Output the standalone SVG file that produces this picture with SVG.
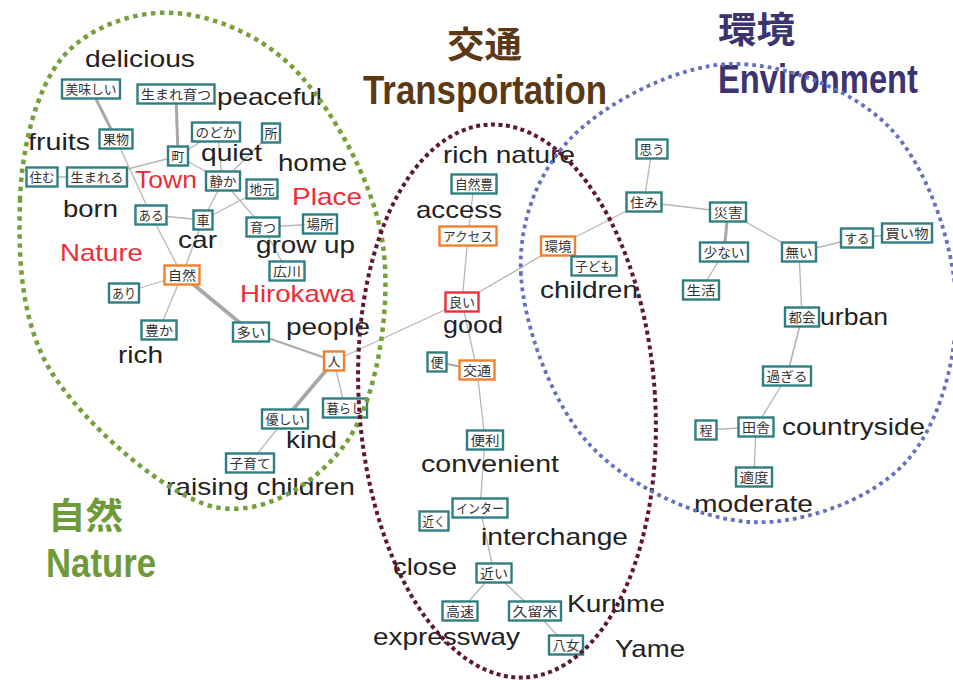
<svg xmlns="http://www.w3.org/2000/svg" width="953" height="680" viewBox="0 0 953 680">
<style>
.lbl{font-family:"Liberation Sans",Arial,sans-serif;font-size:24px;fill:#222}
.red{fill:#ec2d36}
.box{fill:#fff;stroke:#2f7f82;stroke-width:2.4}
.o{stroke:#f08030}
.r{stroke:#e8303a}
.jp{font-family:"Noto Sans CJK JP",sans-serif;font-size:13px;fill:#333;text-anchor:middle}
.e{stroke:#b6b6b6;stroke-width:1.3;fill:none}
.m{stroke:#ababab;stroke-width:2.2}
.t{stroke:#a8a8a8;stroke-width:3.8}
.reg{fill:none}
.hd{font-family:"Liberation Sans",Arial,sans-serif;font-weight:bold;font-size:41px}
.hj{font-family:"Noto Sans CJK JP",sans-serif;font-weight:bold;font-size:36px}
</style>
<rect width="953" height="680" fill="#fff"/>
<g id="headings">
<text class="hj" x="447" y="58" fill="#5a3914" textLength="75" lengthAdjust="spacingAndGlyphs">交通</text>
<text class="hd" x="363" y="104" fill="#5a3914" textLength="244" lengthAdjust="spacingAndGlyphs">Transportation</text>
<text class="hj" x="718" y="43" fill="#3b3470" textLength="77" lengthAdjust="spacingAndGlyphs">環境</text>
<text class="hd" x="718" y="93" fill="#3b3470" textLength="200" lengthAdjust="spacingAndGlyphs">Environment</text>
<text class="hj" x="48" y="529" fill="#6e9a3a" textLength="75" lengthAdjust="spacingAndGlyphs">自然</text>
<text class="hd" x="46" y="577" fill="#6e9a3a" textLength="110" lengthAdjust="spacingAndGlyphs">Nature</text>
</g>
<g id="connectors">
<line class="e t" x1="91" y1="89" x2="116" y2="139" style="stroke-width:3"/>
<line class="e t" x1="176" y1="94" x2="178" y2="156" style="stroke-width:3"/>
<line class="e" x1="116" y1="139" x2="151" y2="215"/>
<line class="e" x1="151" y1="215" x2="182" y2="275"/>
<line class="e" x1="42" y1="177" x2="97" y2="177"/>
<line class="e" x1="97" y1="177" x2="178" y2="156"/>
<line class="e" x1="178" y1="156" x2="216" y2="132"/>
<line class="e" x1="178" y1="156" x2="223" y2="181"/>
<line class="e" x1="218" y1="132" x2="222" y2="181"/>
<line class="e" x1="271" y1="133" x2="223" y2="181"/>
<line class="e" x1="223" y1="181" x2="203" y2="220"/>
<line class="e" x1="223" y1="181" x2="263" y2="227"/>
<line class="e" x1="262" y1="189" x2="203" y2="220"/>
<line class="e" x1="151" y1="215" x2="203" y2="220"/>
<line class="e" x1="203" y1="220" x2="182" y2="275"/>
<line class="e" x1="263" y1="227" x2="320" y2="224"/>
<line class="e" x1="263" y1="227" x2="287" y2="271"/>
<line class="e" x1="182" y1="275" x2="124" y2="293"/>
<line class="e" x1="182" y1="275" x2="159" y2="330"/>
<line class="e t" x1="182" y1="275" x2="251" y2="332"/>
<line class="e m" x1="251" y1="332" x2="334" y2="361"/>
<line class="e t" x1="334" y1="361" x2="285" y2="419"/>
<line class="e" x1="334" y1="361" x2="345" y2="408"/>
<line class="e" x1="285" y1="419" x2="250" y2="463"/>
<line class="e" x1="334" y1="361" x2="462" y2="302"/>
<line class="e" x1="474" y1="184" x2="468" y2="236"/>
<line class="e" x1="468" y1="236" x2="462" y2="302"/>
<line class="e" x1="462" y1="302" x2="558" y2="246"/>
<line class="e" x1="558" y1="246" x2="644" y2="202"/>
<line class="e" x1="462" y1="302" x2="477" y2="370"/>
<line class="e m" x1="437" y1="362" x2="477" y2="370"/>
<line class="e" x1="477" y1="370" x2="485" y2="440"/>
<line class="e" x1="485" y1="440" x2="480" y2="508"/>
<line class="e" x1="480" y1="508" x2="494" y2="573"/>
<line class="e" x1="494" y1="573" x2="460" y2="611"/>
<line class="e" x1="494" y1="573" x2="535" y2="611"/>
<line class="e" x1="535" y1="611" x2="566" y2="645"/>
<line class="e" x1="652" y1="149" x2="644" y2="202"/>
<line class="e" x1="644" y1="202" x2="728" y2="212"/>
<line class="e t" x1="728" y1="212" x2="724" y2="252" style="stroke-width:3"/>
<line class="e" x1="724" y1="252" x2="701" y2="290"/>
<line class="e" x1="728" y1="212" x2="799" y2="252"/>
<line class="e" x1="799" y1="252" x2="857" y2="238"/>
<line class="e" x1="857" y1="238" x2="907" y2="233"/>
<line class="e" x1="799" y1="252" x2="802" y2="317"/>
<line class="e" x1="802" y1="317" x2="787" y2="376" style="stroke-width:1.7"/>
<line class="e" x1="787" y1="376" x2="756" y2="427"/>
<line class="e" x1="756" y1="427" x2="706" y2="430"/>
<line class="e" x1="756" y1="427" x2="754" y2="477"/>
</g>
<g id="n-oishii"><rect class="box" x="62" y="79.5" width="58" height="19"/><text class="jp" x="91" y="93.5" textLength="51" lengthAdjust="spacingAndGlyphs">美味しい</text></g>
<g id="n-umaresodatsu"><rect class="box" x="137.5" y="84.5" width="77" height="19"/><text class="jp" x="176" y="98.5" textLength="70" lengthAdjust="spacingAndGlyphs">生まれ育つ</text></g>
<g id="n-nodoka"><rect class="box" x="192" y="122.5" width="48" height="19"/><text class="jp" x="216" y="136.5" textLength="41" lengthAdjust="spacingAndGlyphs">のどか</text></g>
<g id="n-tokoro"><rect class="box" x="262" y="123.5" width="18" height="19"/><text class="jp" x="271" y="137.5">所</text></g>
<g id="n-kudamono"><rect class="box" x="99.5" y="129.5" width="33" height="19"/><text class="jp" x="116" y="143.5" textLength="26" lengthAdjust="spacingAndGlyphs">果物</text></g>
<g id="n-machi"><rect class="box" x="168" y="146.5" width="20" height="19"/><text class="jp" x="178" y="160.5">町</text></g>
<g id="n-sumu"><rect class="box" x="26.5" y="167.5" width="31" height="19"/><text class="jp" x="42" y="181.5" textLength="25" lengthAdjust="spacingAndGlyphs">住む</text></g>
<g id="n-umareru"><rect class="box" x="67" y="167.5" width="60" height="19"/><text class="jp" x="97" y="181.5" textLength="53" lengthAdjust="spacingAndGlyphs">生まれる</text></g>
<g id="n-shizuka"><rect class="box" x="206" y="171.5" width="34" height="19"/><text class="jp" x="223" y="185.5" textLength="27" lengthAdjust="spacingAndGlyphs">静か</text></g>
<g id="n-jimoto"><rect class="box" x="246.5" y="179.5" width="31" height="19"/><text class="jp" x="262" y="193.5" textLength="25" lengthAdjust="spacingAndGlyphs">地元</text></g>
<g id="n-aru"><rect class="box" x="135.5" y="205.5" width="31" height="19"/><text class="jp" x="151" y="219.5" textLength="25" lengthAdjust="spacingAndGlyphs">ある</text></g>
<g id="n-kuruma"><rect class="box" x="193.5" y="210.5" width="19" height="19"/><text class="jp" x="203" y="224.5">車</text></g>
<g id="n-sodatsu"><rect class="box" x="246.5" y="217.5" width="33" height="19"/><text class="jp" x="263" y="231.5" textLength="26" lengthAdjust="spacingAndGlyphs">育つ</text></g>
<g id="n-basho"><rect class="box" x="303" y="214.5" width="34" height="19"/><text class="jp" x="320" y="228.5" textLength="27" lengthAdjust="spacingAndGlyphs">場所</text></g>
<g id="n-hirokawa"><rect class="box" x="269.5" y="261.5" width="35" height="19"/><text class="jp" x="287" y="275.5" textLength="28" lengthAdjust="spacingAndGlyphs">広川</text></g>
<g id="n-shizen"><rect class="box o" x="164.5" y="265.5" width="35" height="19"/><text class="jp" x="182" y="279.5" textLength="28" lengthAdjust="spacingAndGlyphs">自然</text></g>
<g id="n-ari"><rect class="box" x="109" y="283.5" width="30" height="19"/><text class="jp" x="124" y="297.5" textLength="24" lengthAdjust="spacingAndGlyphs">あり</text></g>
<g id="n-yutaka"><rect class="box" x="141.5" y="320.5" width="35" height="19"/><text class="jp" x="159" y="334.5" textLength="28" lengthAdjust="spacingAndGlyphs">豊か</text></g>
<g id="n-ooi"><rect class="box" x="233" y="322.5" width="36" height="19"/><text class="jp" x="251" y="336.5" textLength="29" lengthAdjust="spacingAndGlyphs">多い</text></g>
<g id="n-hito"><rect class="box o" x="324" y="351.5" width="20" height="19"/><text class="jp" x="334" y="365.5">人</text></g>
<g id="n-kurashi"><rect class="box" x="323" y="398.5" width="44" height="19"/><text class="jp" x="345" y="412.5" textLength="37" lengthAdjust="spacingAndGlyphs">暮らし</text></g>
<g id="n-yasashii"><rect class="box" x="262" y="409.5" width="46" height="19"/><text class="jp" x="285" y="423.5" textLength="39" lengthAdjust="spacingAndGlyphs">優しい</text></g>
<g id="n-kosodate"><rect class="box" x="226" y="453.5" width="48" height="19"/><text class="jp" x="250" y="467.5" textLength="41" lengthAdjust="spacingAndGlyphs">子育て</text></g>
<g id="n-shizenyutaka"><rect class="box" x="451.5" y="174.5" width="45" height="19"/><text class="jp" x="474" y="188.5" textLength="38" lengthAdjust="spacingAndGlyphs">自然豊</text></g>
<g id="n-access"><rect class="box o" x="439.5" y="226.5" width="57" height="19"/><text class="jp" x="468" y="240.5" textLength="50" lengthAdjust="spacingAndGlyphs">アクセス</text></g>
<g id="n-kankyo"><rect class="box o" x="541" y="236.5" width="34" height="19"/><text class="jp" x="558" y="250.5" textLength="27" lengthAdjust="spacingAndGlyphs">環境</text></g>
<g id="n-kodomo"><rect class="box" x="571.5" y="256.5" width="45" height="19"/><text class="jp" x="594" y="270.5" textLength="38" lengthAdjust="spacingAndGlyphs">子ども</text></g>
<g id="n-yoi"><rect class="box r" x="445.5" y="292.5" width="33" height="19"/><text class="jp" x="462" y="306.5" textLength="26" lengthAdjust="spacingAndGlyphs">良い</text></g>
<g id="n-ben"><rect class="box" x="427.5" y="352.5" width="19" height="19"/><text class="jp" x="437" y="366.5">便</text></g>
<g id="n-kotsu"><rect class="box o" x="459.5" y="360.5" width="35" height="19"/><text class="jp" x="477" y="374.5" textLength="28" lengthAdjust="spacingAndGlyphs">交通</text></g>
<g id="n-benri"><rect class="box" x="467" y="430.5" width="36" height="19"/><text class="jp" x="485" y="444.5" textLength="29" lengthAdjust="spacingAndGlyphs">便利</text></g>
<g id="n-inter"><rect class="box" x="452.5" y="498.5" width="55" height="19"/><text class="jp" x="480" y="512.5" textLength="48" lengthAdjust="spacingAndGlyphs">インター</text></g>
<g id="n-chikaku"><rect class="box" x="419.5" y="511.5" width="29" height="19"/><text class="jp" x="434" y="525.5" textLength="23" lengthAdjust="spacingAndGlyphs">近く</text></g>
<g id="n-chikai"><rect class="box" x="476.5" y="563.5" width="35" height="19"/><text class="jp" x="494" y="577.5" textLength="28" lengthAdjust="spacingAndGlyphs">近い</text></g>
<g id="n-kosoku"><rect class="box" x="442.5" y="601.5" width="35" height="19"/><text class="jp" x="460" y="615.5" textLength="28" lengthAdjust="spacingAndGlyphs">高速</text></g>
<g id="n-kurume"><rect class="box" x="509" y="601.5" width="52" height="19"/><text class="jp" x="535" y="615.5" textLength="45" lengthAdjust="spacingAndGlyphs">久留米</text></g>
<g id="n-yame"><rect class="box" x="549" y="635.5" width="34" height="19"/><text class="jp" x="566" y="649.5" textLength="27" lengthAdjust="spacingAndGlyphs">八女</text></g>
<g id="n-omou"><rect class="box" x="636.5" y="139.5" width="31" height="19"/><text class="jp" x="652" y="153.5" textLength="25" lengthAdjust="spacingAndGlyphs">思う</text></g>
<g id="n-sumi"><rect class="box" x="626.5" y="192.5" width="35" height="19"/><text class="jp" x="644" y="206.5" textLength="28" lengthAdjust="spacingAndGlyphs">住み</text></g>
<g id="n-saigai"><rect class="box" x="710" y="202.5" width="36" height="19"/><text class="jp" x="728" y="216.5" textLength="29" lengthAdjust="spacingAndGlyphs">災害</text></g>
<g id="n-sukunai"><rect class="box" x="700" y="242.5" width="48" height="19"/><text class="jp" x="724" y="256.5" textLength="41" lengthAdjust="spacingAndGlyphs">少ない</text></g>
<g id="n-nai"><rect class="box" x="782" y="242.5" width="34" height="19"/><text class="jp" x="799" y="256.5" textLength="27" lengthAdjust="spacingAndGlyphs">無い</text></g>
<g id="n-suru"><rect class="box" x="841" y="228.5" width="32" height="19"/><text class="jp" x="857" y="242.5" textLength="25" lengthAdjust="spacingAndGlyphs">する</text></g>
<g id="n-kaimono"><rect class="box" x="882" y="223.5" width="50" height="19"/><text class="jp" x="907" y="237.5" textLength="43" lengthAdjust="spacingAndGlyphs">買い物</text></g>
<g id="n-seikatsu"><rect class="box" x="683" y="280.5" width="36" height="19"/><text class="jp" x="701" y="294.5" textLength="29" lengthAdjust="spacingAndGlyphs">生活</text></g>
<g id="n-tokai"><rect class="box" x="785" y="307.5" width="34" height="19"/><text class="jp" x="802" y="321.5" textLength="27" lengthAdjust="spacingAndGlyphs">都会</text></g>
<g id="n-sugiru"><rect class="box" x="763" y="366.5" width="48" height="19"/><text class="jp" x="787" y="380.5" textLength="41" lengthAdjust="spacingAndGlyphs">過ぎる</text></g>
<g id="n-hodo"><rect class="box" x="695.5" y="420.5" width="21" height="19"/><text class="jp" x="706" y="434.5">程</text></g>
<g id="n-inaka"><rect class="box" x="738.5" y="417.5" width="35" height="19"/><text class="jp" x="756" y="431.5" textLength="28" lengthAdjust="spacingAndGlyphs">田舎</text></g>
<g id="n-tekido"><rect class="box" x="736" y="467.5" width="36" height="19"/><text class="jp" x="754" y="481.5" textLength="29" lengthAdjust="spacingAndGlyphs">適度</text></g>
<g id="labels">
<text class="lbl" x="85" y="67" textLength="110" lengthAdjust="spacingAndGlyphs">delicious</text>
<text class="lbl" x="217" y="105" textLength="105" lengthAdjust="spacingAndGlyphs">peaceful</text>
<text class="lbl" x="28" y="150" textLength="62" lengthAdjust="spacingAndGlyphs">fruits</text>
<text class="lbl" x="201" y="161" textLength="61" lengthAdjust="spacingAndGlyphs">quiet</text>
<text class="lbl" x="278" y="171" textLength="69" lengthAdjust="spacingAndGlyphs">home</text>
<text class="lbl red" x="135" y="188" textLength="62" lengthAdjust="spacingAndGlyphs">Town</text>
<text class="lbl red" x="292" y="205" textLength="70" lengthAdjust="spacingAndGlyphs">Place</text>
<text class="lbl" x="63" y="217" textLength="55" lengthAdjust="spacingAndGlyphs">born</text>
<text class="lbl" x="178" y="248" textLength="39" lengthAdjust="spacingAndGlyphs">car</text>
<text class="lbl" x="256" y="253" textLength="99" lengthAdjust="spacingAndGlyphs">grow up</text>
<text class="lbl red" x="60" y="261" textLength="83" lengthAdjust="spacingAndGlyphs">Nature</text>
<text class="lbl red" x="240" y="302" textLength="115" lengthAdjust="spacingAndGlyphs">Hirokawa</text>
<text class="lbl" x="286" y="335" textLength="84" lengthAdjust="spacingAndGlyphs">people</text>
<text class="lbl" x="118" y="363" textLength="45" lengthAdjust="spacingAndGlyphs">rich</text>
<text class="lbl" x="286" y="448" textLength="51" lengthAdjust="spacingAndGlyphs">kind</text>
<text class="lbl" x="166" y="495" textLength="189" lengthAdjust="spacingAndGlyphs">raising children</text>
<text class="lbl" x="443" y="163" textLength="132" lengthAdjust="spacingAndGlyphs">rich nature</text>
<text class="lbl" x="416" y="218" textLength="86" lengthAdjust="spacingAndGlyphs">access</text>
<text class="lbl" x="540" y="298" textLength="98" lengthAdjust="spacingAndGlyphs">children</text>
<text class="lbl" x="443" y="333" textLength="60" lengthAdjust="spacingAndGlyphs">good</text>
<text class="lbl" x="421" y="472" textLength="138" lengthAdjust="spacingAndGlyphs">convenient</text>
<text class="lbl" x="481" y="545" textLength="147" lengthAdjust="spacingAndGlyphs">interchange</text>
<text class="lbl" x="393" y="575" textLength="64" lengthAdjust="spacingAndGlyphs">close</text>
<text class="lbl" x="567" y="612" textLength="98" lengthAdjust="spacingAndGlyphs">Kurume</text>
<text class="lbl" x="373" y="645" textLength="147" lengthAdjust="spacingAndGlyphs">expressway</text>
<text class="lbl" x="615" y="657" textLength="70" lengthAdjust="spacingAndGlyphs">Yame</text>
<text class="lbl" x="820" y="325" textLength="68" lengthAdjust="spacingAndGlyphs">urban</text>
<text class="lbl" x="782" y="435" textLength="143" lengthAdjust="spacingAndGlyphs">countryside</text>
<text class="lbl" x="694" y="512" textLength="119" lengthAdjust="spacingAndGlyphs">moderate</text>
</g>
<g id="regions">
<path class="reg" stroke="#76a03a" stroke-width="4.5" stroke-dasharray="4.5 4.5" d="M20,200 C21.7,147.5 36.2,89.2 62,58 C87.8,26.8 135.3,10.2 175,13 C214.7,15.8 265.3,36.3 300,75 C334.7,113.7 374.7,184.7 383,245 C391.3,305.3 378,393.3 350,437 C322,480.7 264.7,517.7 215,507 C165.3,496.3 84.5,424.2 52,373 C19.5,321.8 18.3,252.5 20,200 Z"/>
<ellipse class="reg" cx="507" cy="401" rx="148" ry="277" transform="rotate(-4 507 401)" stroke="#5c1830" stroke-width="4" stroke-dasharray="4 3.5"/>
<path class="reg" stroke="#6670c0" stroke-width="3.8" stroke-dasharray="3.8 4" d="M521,275 C518,223.7 537.2,172.2 572,137 C606.8,101.8 677,65.5 730,64 C783,62.5 852.3,88.7 890,128 C927.7,167.3 953.5,244.2 956,300 C958.5,355.8 939.3,426 905,463 C870.7,500 802.5,525 750,522 C697.5,519 628.2,486.2 590,445 C551.8,403.8 524,326.3 521,275 Z"/>
</g>
</svg>
